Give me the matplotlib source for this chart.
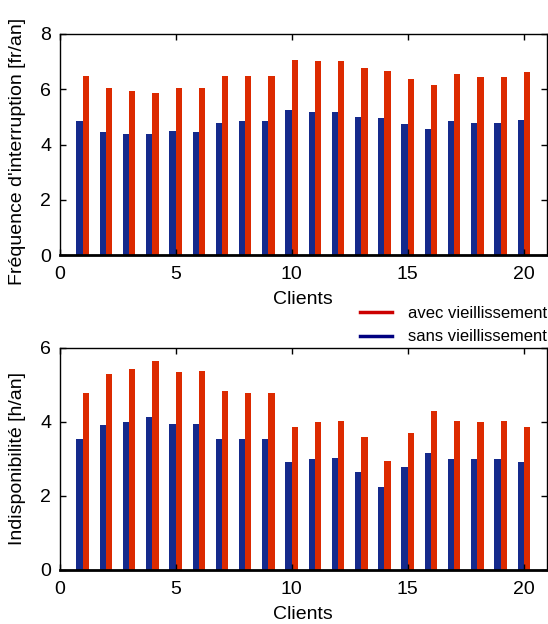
import matplotlib
matplotlib.use("Agg")
import matplotlib.pyplot as plt
import numpy as np
from matplotlib.lines import Line2D

clients = list(range(1, 21))
freq_avec = [6.49, 6.04, 5.93, 5.86, 6.04, 6.04, 6.49, 6.49, 6.49, 7.06,
             7.02, 7.02, 6.77, 6.66, 6.38, 6.15, 6.55, 6.44, 6.44, 6.61]
freq_sans = [4.84, 4.44, 4.38, 4.38, 4.50, 4.44, 4.78, 4.84, 4.84, 5.24,
             5.18, 5.18, 5.01, 4.95, 4.73, 4.55, 4.84, 4.78, 4.78, 4.90]
indisp_avec = [4.79, 5.30, 5.43, 5.64, 5.35, 5.38, 4.84, 4.79, 4.79, 3.87,
               3.99, 4.03, 3.58, 2.94, 3.69, 4.29, 4.03, 3.99, 4.03, 3.87]
indisp_sans = [3.53, 3.91, 4.00, 4.12, 3.95, 3.95, 3.53, 3.53, 3.53, 2.91,
               2.99, 3.02, 2.65, 2.23, 2.77, 3.15, 2.99, 2.99, 2.99, 2.91]

xticks = [0, 5, 10, 15, 20]
label_avec = "avec vieillissement"
label_sans = "sans vieillissement"

plt.rcParams['font.family'] = ['Liberation Sans', 'DejaVu Sans']

RED = "#dc2a00"
BLUE = "#152a8c"
fig = plt.figure(figsize=(5.48, 6.24), dpi=100)

def px_axes(l, t, r, b):
    return fig.add_axes([l / 548, 1 - b / 624, (r - l) / 548, (b - t) / 624])

ax1 = px_axes(59.5, 34, 547, 255)
ax2 = px_axes(59.5, 348, 547, 569.5)

x = np.array(clients)
bw = 0.27

def draw(ax, avec, sans, ymax, yticks, ylabel, ylab_y):
    ax.bar(x - bw, sans, width=bw, align='edge', color=BLUE, edgecolor='none')
    ax.bar(x, avec, width=bw, align='edge', color=RED, edgecolor='none')
    ax.set_xlim(0, 21)
    ax.set_ylim(0, ymax)
    ax.set_xticks(xticks)
    ax.set_yticks(yticks)
    ax.tick_params(direction='in', top=True, right=True, labelsize=14,
                   length=4, width=1)
    ax.tick_params(axis='x', pad=8)
    ax.tick_params(axis='y', pad=6)
    for s in ax.spines.values():
        s.set_linewidth(1.0)
    ax.spines['bottom'].set_linewidth(2.0)
    ax.set_xlabel("Clients", fontsize=14, labelpad=6)
    ax.set_ylabel(ylabel, fontsize=14)
    ax.yaxis.set_label_coords(-0.068, ylab_y)

draw(ax1, freq_avec, freq_sans, 8, [0, 2, 4, 6, 8], "Fréquence d'interruption [fr/an]", 0.47)
draw(ax2, indisp_avec, indisp_sans, 6, [0, 2, 4, 6], "Indisponibilité [h/an]", 0.5)

handles = [Line2D([0], [0], color="#cc0000", lw=2.5),
           Line2D([0], [0], color="#000080", lw=2.5)]
fig.legend(handles, [label_avec, label_sans], loc='upper left',
           bbox_to_anchor=(360 / 548, 1 - 306 / 624), frameon=False,
           fontsize=12, handlelength=1.9, handletextpad=0.95, labelspacing=0.5,
           borderaxespad=0, borderpad=0)

fig.savefig("out.png", dpi=100)
